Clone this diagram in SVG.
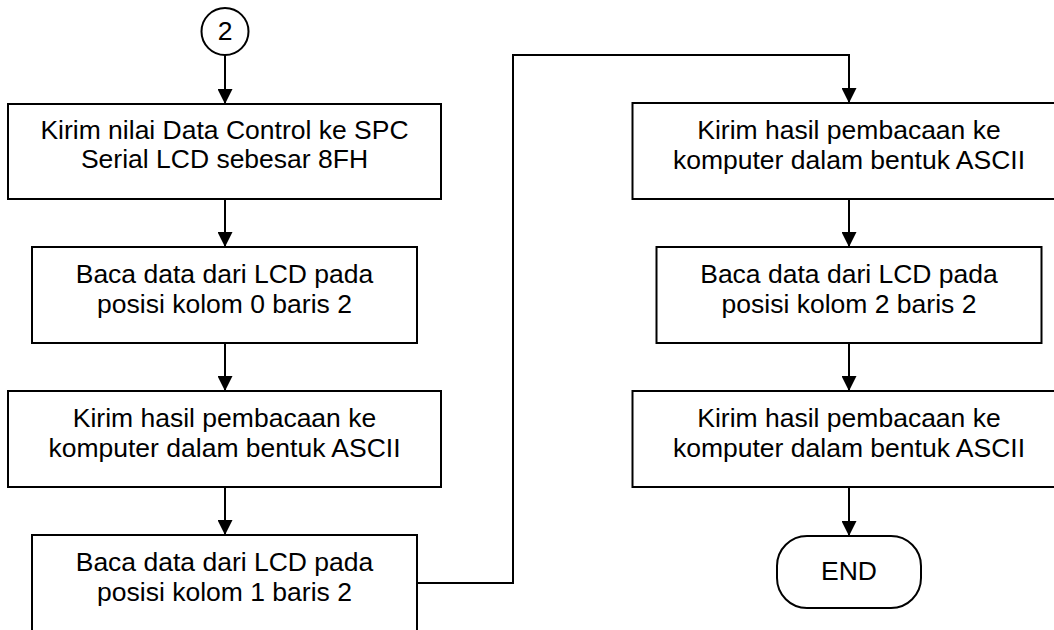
<svg xmlns="http://www.w3.org/2000/svg" width="1054" height="630" viewBox="0 0 1054 630">
<style>
.b{fill:#fff;stroke:#000;stroke-width:2}
.t{font-family:"Liberation Sans",Arial,sans-serif;font-size:26.5px;fill:#000;text-anchor:middle}
.c{fill:none;stroke:#000;stroke-width:2}
</style>
<defs>
<marker id="a" markerWidth="15" markerHeight="15" refX="15" refY="7.5" orient="auto" markerUnits="userSpaceOnUse">
<path d="M0,0 L15,7.5 L0,15 Z" fill="#000"/>
</marker>
</defs>
<rect width="1054" height="630" fill="#fff"/>
<g id="connectors">
<path class="c" d="M225,55 V104" marker-end="url(#a)"/>
<path class="c" d="M225,199 V247" marker-end="url(#a)"/>
<path class="c" d="M225,343 V391" marker-end="url(#a)"/>
<path class="c" d="M225,487 V535" marker-end="url(#a)"/>
<path class="c" d="M417,583 H513 V55 H849 V103" marker-end="url(#a)"/>
<path class="c" d="M849,199 V247" marker-end="url(#a)"/>
<path class="c" d="M849,343 V391" marker-end="url(#a)"/>
<path class="c" d="M849,487 V536" marker-end="url(#a)"/>
</g>
<g id="start">
<circle class="b" cx="225" cy="31.5" r="23.5"/>
<text class="t" x="225" y="40">2</text>
</g>
<g id="n1">
<rect class="b" x="8" y="104" width="433" height="95"/>
<text class="t" x="224.5" y="139">Kirim nilai Data Control ke SPC</text>
<text class="t" x="224.5" y="168">Serial LCD sebesar 8FH</text>
</g>
<g id="n2">
<rect class="b" x="32" y="247" width="385" height="96"/>
<text class="t" x="224.5" y="283">Baca data dari LCD pada</text>
<text class="t" x="224.5" y="313">posisi kolom 0 baris 2</text>
</g>
<g id="n3">
<rect class="b" x="8" y="391" width="433" height="96"/>
<text class="t" x="224.5" y="427">Kirim hasil pembacaan ke</text>
<text class="t" x="224.5" y="457">komputer dalam bentuk ASCII</text>
</g>
<g id="n4">
<rect class="b" x="32" y="535" width="385" height="100"/>
<text class="t" x="224.5" y="571">Baca data dari LCD pada</text>
<text class="t" x="224.5" y="601">posisi kolom 1 baris 2</text>
</g>
<g id="n5">
<rect class="b" x="632.5" y="103" width="433" height="96"/>
<text class="t" x="849" y="139">Kirim hasil pembacaan ke</text>
<text class="t" x="849" y="169">komputer dalam bentuk ASCII</text>
</g>
<g id="n6">
<rect class="b" x="656.5" y="247" width="385" height="96"/>
<text class="t" x="849" y="283">Baca data dari LCD pada</text>
<text class="t" x="849" y="313">posisi kolom 2 baris 2</text>
</g>
<g id="n7">
<rect class="b" x="632.5" y="391" width="433" height="96"/>
<text class="t" x="849" y="427">Kirim hasil pembacaan ke</text>
<text class="t" x="849" y="457">komputer dalam bentuk ASCII</text>
</g>
<g id="end">
<rect class="b" x="777" y="536" width="144" height="72" rx="30" ry="30"/>
<text class="t" x="849" y="580">END</text>
</g>
</svg>
